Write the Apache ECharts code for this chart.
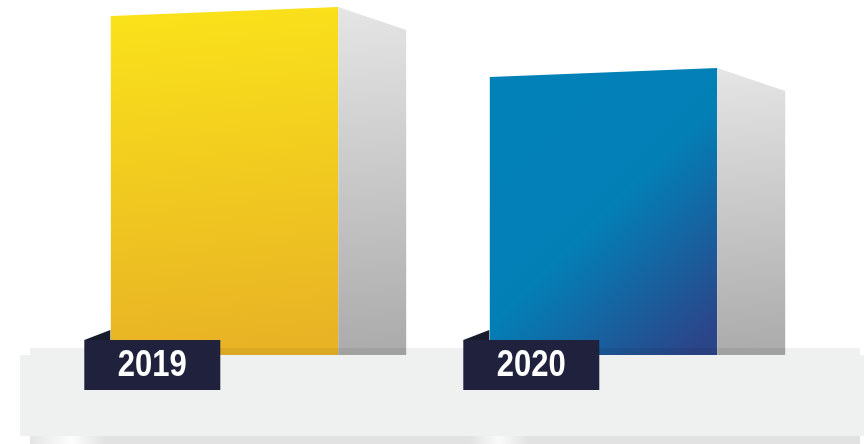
<!DOCTYPE html>
<html lang="en">
<head>
  <meta charset="UTF-8">
  <title>2019 vs 2020</title>
  <script src="https://cdn.jsdelivr.net/npm/echarts@6/dist/echarts.min.js"></script>
  <style>
    html, body { margin: 0; padding: 0; background: #fff; }
    #chart { width: 864px; height: 444px; }
  </style>
</head>
<body>
  <div id="chart"></div>
  <script>
    // data
    const years = ['2019', '2020']
    const values = [100, 82.5]

    // face colours per bar
    const fronts = [
      { type: 'linear', x: 0, y: 0, x2: 0.15, y2: 1, colorStops: [
        { offset: 0, color: '#fae31a' }, { offset: 1, color: '#e8b325' }] },
      { type: 'linear', x: 0, y: 0.1, x2: 1, y2: 0.9, colorStops: [
        { offset: 0, color: '#0281b9' }, { offset: 0.5, color: '#0280b6' },
        { offset: 1, color: '#2b4589' }] }
    ]
    const side = { type: 'linear', x: 0, y: 0, x2: 0.3, y2: 1, colorStops: [
      { offset: 0, color: '#e5e5e5' }, { offset: 1, color: '#ababab' }] }

    const myChart = echarts.init(document.getElementById('chart'))

    // front face + side face of each box
    function barItem(params, api) {
      const i = api.value(0)
      const top = api.coord([i, api.value(1)])
      const base = api.coord([i, 0])
      const half = api.size([1, 0])[0] * 0.3
      const x0 = top[0] - half, x1 = top[0] + half
      const depth = 68
      return {
        type: 'group',
        children: [
          { type: 'polygon', shape: { points: [[x0, top[1] + 9], [x1, top[1]], [x1, base[1]], [x0, base[1]]] },
            style: { fill: fronts[i] } },
          { type: 'polygon', shape: { points: [[x1, top[1]], [x1 + depth, top[1] + 23], [x1 + depth, base[1]], [x1, base[1]]] },
            style: { fill: side } }
        ]
      }
    }

    // dark year tag with folded corner
    function labelItem(params, api) {
      const i = api.value(0)
      const base = api.coord([i, 0])
      const half = api.size([1, 0])[0] * 0.3
      const x0 = base[0] - half - 26.5
      const y0 = base[1] - 15
      return {
        type: 'group',
        children: [
          { type: 'polygon', shape: { points: [[x0, y0], [x0 + 26, y0 - 10], [x0 + 26, y0]] },
            style: { fill: '#171b2b' } },
          { type: 'rect', shape: { x: x0, y: y0, width: 136, height: 50 },
            style: { fill: '#20223d' } },
          { type: 'text', x: x0 + 68, y: y0 + 26, scaleX: 0.86,
            style: { text: years[i], fill: '#fff', font: 'bold 36px "Liberation Sans", Arial, sans-serif',
              align: 'center', verticalAlign: 'middle' } }
        ]
      }
    }

    const seriesData = years.map((y, i) => [i, values[i]])

    const option = {
      animation: false,
      grid: { left: 35, right: 71, top: 7, bottom: 89 },
      xAxis: { type: 'category', data: years, show: false },
      yAxis: { type: 'value', min: 0, max: 100, show: false },
      graphic: [
        // platform back strip (translucent, over the bar bottoms)
        { type: 'rect', z: 5, shape: { x: 30, y: 348, width: 830, height: 7 },
          style: { fill: 'rgba(0,0,0,0.06)' } },
        // platform front face
        { type: 'rect', z: 5, shape: { x: 20, y: 355, width: 844, height: 81 },
          style: { fill: '#eff1f0' } },
        // shadow under the platform
        { type: 'rect', z: 5, shape: { x: 30, y: 436, width: 830, height: 8 },
          style: { fill: { type: 'linear', x: 0, y: 0, x2: 1, y2: 0, colorStops: [
            { offset: 0, color: '#e4e4e4' }, { offset: 0.05, color: '#fdfdfd' }, { offset: 0.09, color: '#e2e2e2' },
            { offset: 0.53, color: '#e2e2e2' }, { offset: 0.565, color: '#fafafa' }, { offset: 0.6, color: '#e2e2e2' },
            { offset: 1, color: '#e2e2e2' }] } } }
      ],
      series: [
        { type: 'custom', z: 2, renderItem: barItem, data: seriesData },
        { type: 'custom', z: 10, renderItem: labelItem, data: seriesData }
      ]
    }
    myChart.setOption(option)
  </script>
</body>
</html>
